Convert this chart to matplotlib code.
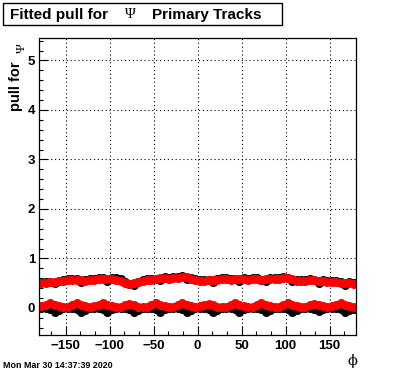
import numpy as np
import matplotlib
matplotlib.use('Agg')
import matplotlib.pyplot as plt
from matplotlib.ticker import MultipleLocator
from matplotlib.patches import Rectangle

# phi bin centres (5 degree bins)
phi = np.arange(-177.5, 180, 5.0)

# fitted pull width (upper band) and mean (lower band)
black_hi = [0.52, 0.53, 0.53, 0.50, 0.55, 0.57,
            0.58, 0.58, 0.58, 0.52, 0.57, 0.58,
            0.59, 0.60, 0.60, 0.55, 0.61, 0.60,
            0.58, 0.53, 0.49, 0.46, 0.52, 0.57,
            0.58, 0.59, 0.58, 0.56, 0.62, 0.61,
            0.62, 0.63, 0.65, 0.58, 0.60, 0.58,
            0.57, 0.57, 0.57, 0.53, 0.59, 0.60,
            0.60, 0.59, 0.58, 0.55, 0.60, 0.59,
            0.60, 0.60, 0.57, 0.54, 0.61, 0.60,
            0.61, 0.62, 0.60, 0.54, 0.57, 0.56,
            0.57, 0.58, 0.56, 0.51, 0.56, 0.55,
            0.55, 0.54, 0.52, 0.47, 0.52, 0.51]
red_hi = [0.50, 0.51, 0.52, 0.53,
          0.55, 0.55, 0.56, 0.56, 0.57, 0.56, 0.55, 0.56,
          0.57, 0.58, 0.58, 0.59, 0.59,
          0.57, 0.54, 0.50, 0.48, 0.50, 0.53, 0.55,
          0.56, 0.57, 0.58, 0.60, 0.60, 0.59, 0.60, 0.61,
          0.63, 0.62, 0.59, 0.56,
          0.55, 0.55, 0.56, 0.57, 0.57, 0.58,
          0.58, 0.57, 0.58, 0.59, 0.58, 0.57,
          0.58, 0.58, 0.57, 0.58, 0.59, 0.58,
          0.59, 0.60, 0.60, 0.58, 0.55, 0.54,
          0.55, 0.56, 0.56, 0.55, 0.54, 0.53,
          0.53, 0.52, 0.51, 0.50, 0.50, 0.49]
black_lo = [0.00, -0.01, -0.03, -0.08, -0.04, -0.01,
            -0.01, -0.01, -0.03, -0.09, -0.04, -0.01,
            0.00, -0.01, -0.03, -0.08, -0.03, -0.01,
            -0.01, -0.01, -0.03, -0.09, -0.04, -0.01,
            -0.01, -0.01, -0.03, -0.08, -0.03, -0.01,
            0.00, -0.01, -0.03, -0.09, -0.04, -0.01,
            -0.01, -0.01, -0.03, -0.08, -0.04, -0.01,
            -0.01, -0.01, -0.03, -0.09, -0.03, -0.01,
            0.00, -0.01, -0.03, -0.08, -0.04, -0.01,
            -0.01, -0.01, -0.03, -0.09, -0.04, -0.01,
            -0.01, -0.01, -0.03, -0.07, -0.03, -0.01,
            0.00, -0.01, -0.03, -0.08, -0.04, -0.02]
red_lo = [0.04, 0.06, 0.10, 0.06, 0.03, 0.02,
          0.02, 0.06, 0.10, 0.06, 0.03, 0.02,
          0.03, 0.06, 0.11, 0.06, 0.03, 0.02,
          0.02, 0.05, 0.09, 0.05, 0.02, 0.02,
          0.02, 0.06, 0.10, 0.06, 0.03, 0.02,
          0.02, 0.06, 0.11, 0.06, 0.03, 0.02,
          0.03, 0.05, 0.09, 0.05, 0.02, 0.02,
          0.02, 0.06, 0.10, 0.06, 0.03, 0.02,
          0.02, 0.05, 0.10, 0.05, 0.03, 0.02,
          0.02, 0.06, 0.11, 0.06, 0.03, 0.02,
          0.02, 0.05, 0.09, 0.05, 0.03, 0.02,
          0.03, 0.06, 0.11, 0.06, 0.03, 0.01]

W, H = 396, 372
fig = plt.figure(figsize=(W / 100, H / 100), dpi=100)
ax = fig.add_axes([39.3 / W, 1 - 334.7 / H, (356 - 39.3) / W, (334.7 - 37.7) / H])

ms = 6.5
ax.plot(phi, black_hi, 'o', color='black', ms=ms, mec='none')
ax.plot(phi, black_lo, 'o', color='black', ms=ms, mec='none')
ax.plot(phi, red_hi, 'o', color='red', ms=ms, mec='none')
ax.plot(phi, red_lo, 'o', color='red', ms=ms, mec='none')

ax.set_xlim(-180, 180)
ax.set_ylim(-0.54, 5.46)
ax.xaxis.set_major_locator(MultipleLocator(50))
ax.xaxis.set_minor_locator(MultipleLocator(50 / 3))
ax.yaxis.set_major_locator(MultipleLocator(1))
ax.yaxis.set_minor_locator(MultipleLocator(0.2))
ax.tick_params(which='both', direction='in', top=False, right=False, width=0.8)
ax.tick_params(which='major', length=6.5)
ax.tick_params(axis='x', which='major', pad=4)
ax.tick_params(axis='y', which='major', pad=3)
ax.tick_params(which='minor', length=3.2)
ax.grid(which='major', ls=(0, (1, 2.5)), color='black', lw=0.8)
for s in ax.spines.values():
    s.set_linewidth(0.9)
for lab in ax.get_xticklabels() + ax.get_yticklabels():
    lab.set_fontfamily('Liberation Sans')
    lab.set_fontweight('bold')
    lab.set_fontsize(9.5)

# title box
fig.patches.append(Rectangle((3 / W, 1 - 25 / H), 279 / W, 22 / H, transform=fig.transFigure,
                             fill=False, lw=1, ec='black'))
fig.text(10 / W, 1 - 14.5 / H, 'Fitted pull for', family='Liberation Sans', weight='bold',
         fontsize=11, va='center', ha='left')
fig.text(130 / W, 1 - 14 / H, 'Ψ', family='Liberation Serif', fontsize=10.5, va='center', ha='center')
fig.text(152 / W, 1 - 14.5 / H, 'Primary Tracks', family='Liberation Sans', weight='bold',
         fontsize=11, va='center', ha='left')

# y title
fig.text(16 / W, 1 - 61 / H, 'pull for', family='Liberation Sans', weight='bold', fontsize=10.5,
         rotation=90, ha='center', va='top')
fig.text(22 / W, 1 - 48 / H, 'Ψ', family='Liberation Serif', fontsize=9.5,
         rotation=90, ha='center', va='center')

# x title and date stamp
fig.text(353 / W, 1 - 361 / H, 'ϕ', family='DejaVu Serif', fontsize=10.5, ha='center', va='center')
fig.text(3 / W, 1 - 365 / H, 'Mon Mar 30 14:37:39 2020', family='Liberation Sans', weight='bold',
         fontsize=6.4, ha='left', va='center')

fig.savefig('out.png', dpi=100)
